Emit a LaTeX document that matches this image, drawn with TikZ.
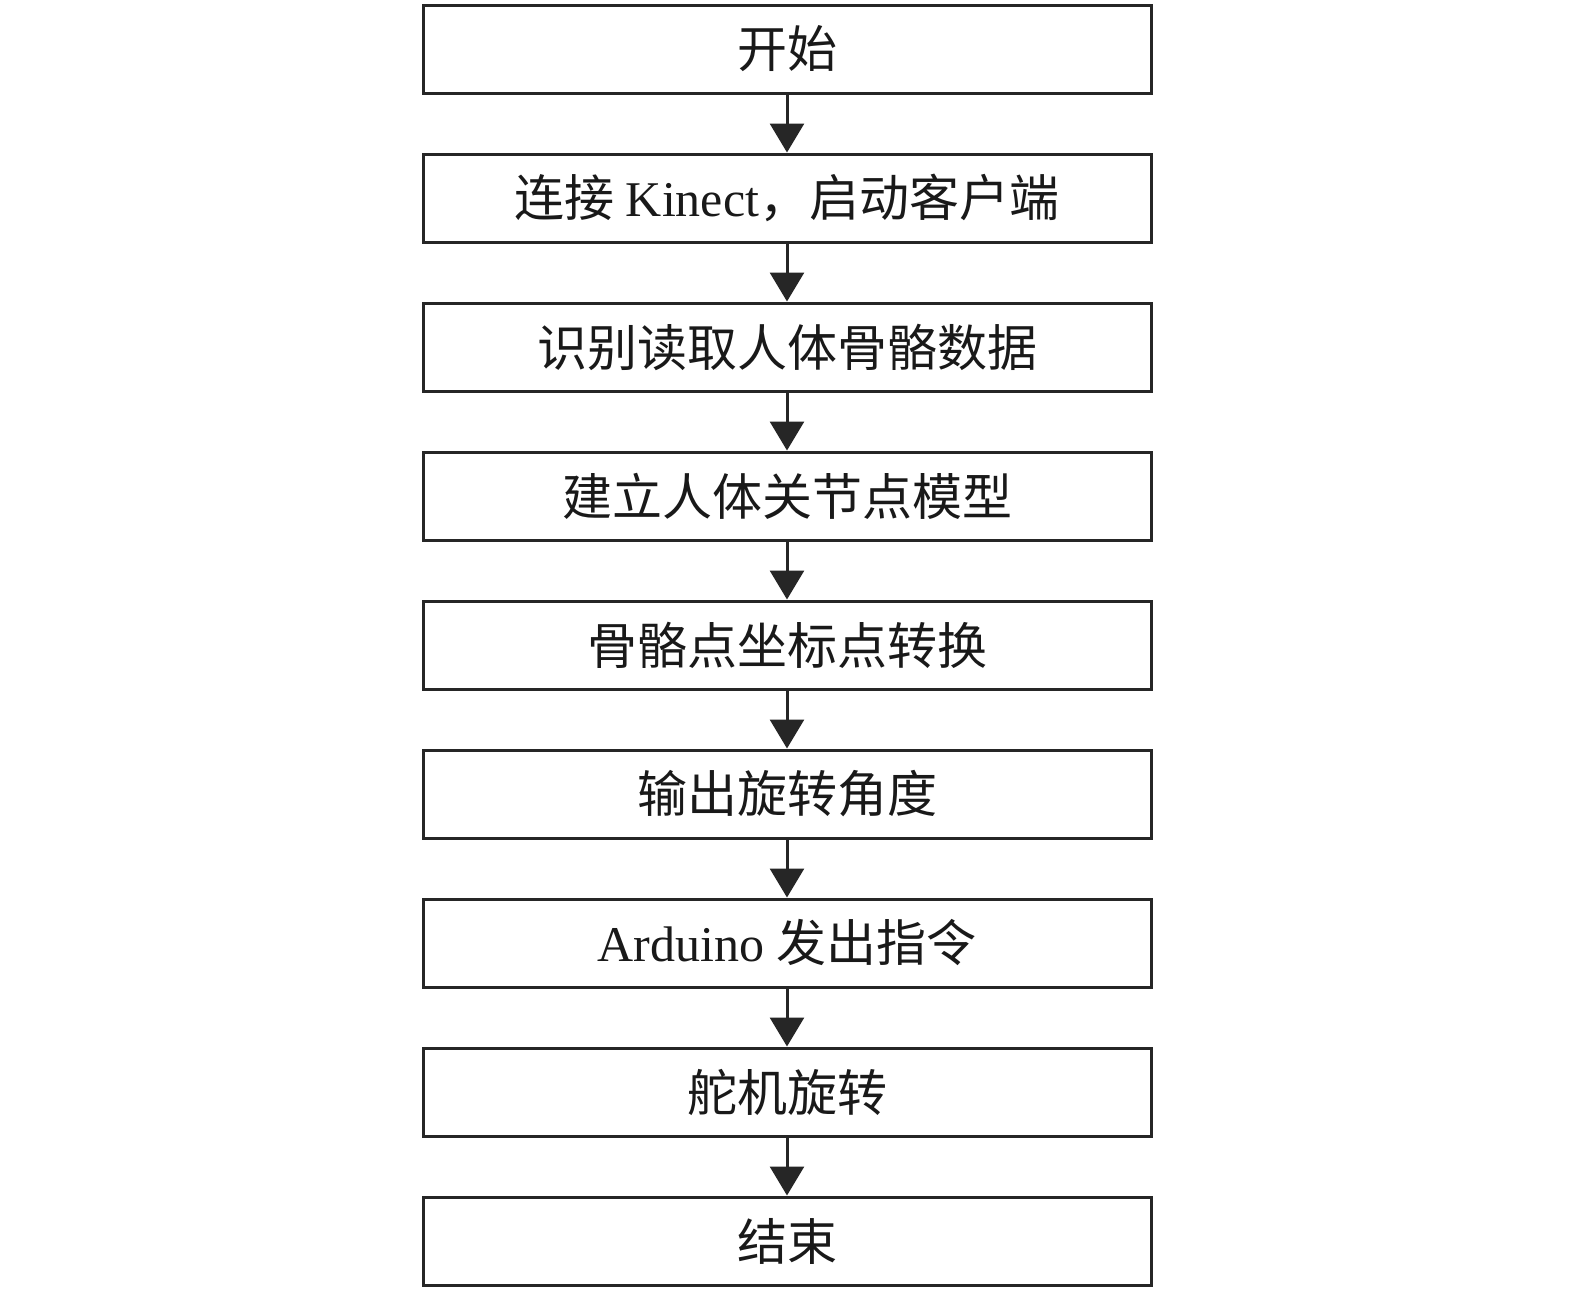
\documentclass[tikz,border=0pt]{standalone}
\usepackage{fontspec}
\setmainfont{Liberation Serif}
\newfontfamily\cjk{Noto Sans CJK SC}
\usetikzlibrary{arrows.meta}
\begin{document}
\begin{tikzpicture}[x=1pt,y=-1pt,
  stepbox/.style={draw=black!85, line width=3pt, minimum width=728pt, minimum height=88pt, inner sep=0pt, font=\fontsize{50}{56}\selectfont, text=black!90},
  flow/.style={draw=black!85, line width=3pt, -{Triangle[width=34pt,length=29pt]}}]
\useasboundingbox (0,0) rectangle (1575,1291);
\node[stepbox] (n1) at (787,49) {\cjk 开始};
\node[stepbox] (n2) at (787,198) {\cjk 连接\ \rmfamily Kinect\cjk，启动客户端};
\node[stepbox] (n3) at (787,347) {\cjk 识别读取人体骨骼数据};
\node[stepbox] (n4) at (787,496) {\cjk 建立人体关节点模型};
\node[stepbox] (n5) at (787,645) {\cjk 骨骼点坐标点转换};
\node[stepbox] (n6) at (787,794) {\cjk 输出旋转角度};
\node[stepbox] (n7) at (787,943) {Arduino\ \cjk 发出指令};
\node[stepbox] (n8) at (787,1092) {\cjk 舵机旋转};
\node[stepbox] (n9) at (787,1241) {\cjk 结束};
\foreach \a/\b in {n1/n2,n2/n3,n3/n4,n4/n5,n5/n6,n6/n7,n7/n8,n8/n9}
  \draw[flow] (\a) -- (\b);
\end{tikzpicture}
\end{document}
